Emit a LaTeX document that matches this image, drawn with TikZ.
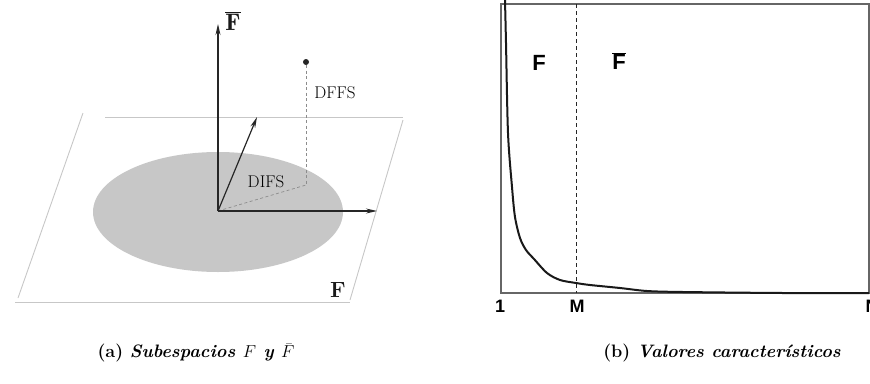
\documentclass[tikz,border=0pt]{standalone}
\usepackage{fontspec}
\newfontfamily\arialf{Liberation Sans}
\usetikzlibrary{arrows.meta}
\begin{document}
\begin{tikzpicture}[x=1pt,y=-1pt,
  plane/.style={draw=black!22, line width=0.9pt},
  vec/.style={draw=black!85, line width=1.2pt, -{Stealth[length=11pt,width=5pt]}},
  guide/.style={draw=black!45, line width=0.7pt, dash pattern=on 3pt off 2.5pt},
  serlab/.style={inner sep=0pt, font=\fontsize{17}{20}\selectfont, text=black},
  boldlab/.style={inner sep=0pt, font=\fontsize{22}{26}\selectfont\bfseries, text=black!90},
  sanslab/.style={inner sep=0pt, font=\fontsize{22}{26}\selectfont\arialf\bfseries},
  ticklab/.style={inner sep=0pt, font=\fontsize{18}{21}\selectfont\arialf\bfseries},
  axbox/.style={draw=black!60, line width=1.3pt},
  curve/.style={draw=black!90, line width=2pt, line join=round},
  caption/.style={inner sep=0pt, font=\fontsize{18}{21}\selectfont\bfseries}
]
\useasboundingbox (0,0) rectangle (870,383);
\clip (0,0) rectangle (870,383);
% ---------- left panel ----------
\coordinate (ptl) at (105,117);
\coordinate (ptr) at (403,117);
\coordinate (pbl) at (15,302);
\coordinate (pbr) at (350,302);
\coordinate (pl1) at (83,113);
\coordinate (pl2) at (18,298);
\coordinate (pr1) at (403,120);
\coordinate (pr2) at (350,300);
\draw[plane] (ptl) -- (ptr);
\draw[plane] (pbl) -- (pbr);
\draw[plane] (pl1) -- (pl2);
\draw[plane] (pr1) -- (pr2);
\fill[black!22] (218,212) ellipse [x radius=125, y radius=60];
\coordinate (O) at (218,211);
\coordinate (up) at (218,24);
\coordinate (right) at (377,211);
\coordinate (diag) at (257,117);
\coordinate (proj) at (306,185);
\node[circle, fill=black!85, inner sep=0pt, minimum size=6pt] (pt) at (306,62) {};
\draw[guide] (pt) -- (proj);
\draw[guide] (O) -- (proj);
\draw[vec] (O) -- (up);
\draw[vec] (O) -- (right);
\draw[vec] (O) -- (diag);
\node[boldlab, font=\fontsize{24}{28}\selectfont] (Fbar) at (233,21) {$\overline{\mathbf{F}}$};
\node[serlab] (dffs) at (335,93) {DFFS};
\node[serlab, fill=black!22, inner sep=1pt] (difs) at (266,182) {DIFS};
\node[boldlab] (Fpl) at (338,290) {F};
% ---------- right panel ----------
\coordinate (bx1) at (501,4);
\coordinate (bx2) at (869,293);
\draw[axbox] (bx1) rectangle (bx2);
\coordinate (mtop) at (576,4);
\coordinate (mbot) at (576,293);
\draw[draw=black!85, line width=0.9pt, dash pattern=on 4pt off 3pt] (mtop) -- (mbot);
\draw[curve] plot[smooth, tension=0.5] coordinates {
 (505,0) (506,43) (508,133) (512,187) (515,217) (520,238) (526,250)
 (534,259) (547,273) (560,280) (576,283) (590,285) (620,288) (647,291)
 (683,292) (783,293) (869,293)};
\node[sanslab] (Fr) at (539,63) {F};
\node[sanslab] (Fbr) at (619,61) {$\overline{\hbox{\arialf\bfseries F}}$};
\node[ticklab] (t1) at (500,306) {1};
\node[ticklab] (tM) at (577,306) {M};
\node[ticklab] (tN) at (872,306) {N};
% ---------- captions ----------
\node[caption] (capa) at (196,353) {(a) \textit{Subespacios $F$ y $\bar{F}$}};
\node[caption] (capb) at (722,353) {(b) \textit{Valores característicos}};
\end{tikzpicture}
\end{document}
